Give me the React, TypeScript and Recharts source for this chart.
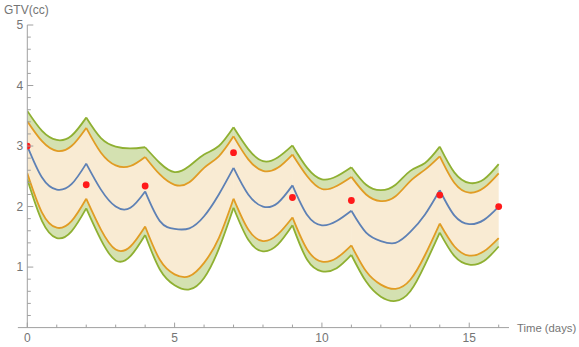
import React from 'react';
import { ComposedChart, Area, Line, Scatter, XAxis, YAxis, ReferenceLine } from 'recharts';

const times = [0, 0.5, 1, 1.5, 2, 2.5, 3, 3.5, 4, 4.5, 5, 5.5, 6, 6.5, 7, 7.5, 8, 8.5, 9, 9.5, 10, 10.5, 11, 11.5, 12, 12.5, 13, 13.5, 14, 14.5, 15, 15.5, 16];
const greenUpper = [3.58, 3.25, 3.1, 3.17, 3.47, 3.13, 2.99, 2.96, 2.98, 2.72, 2.57, 2.67, 2.86, 3.0, 3.31, 2.95, 2.75, 2.81, 3.01, 2.64, 2.45, 2.5, 2.65, 2.36, 2.27, 2.36, 2.59, 2.72, 2.99, 2.56, 2.39, 2.45, 2.7];
const orangeUpper = [3.41, 3.08, 2.92, 3.0, 3.3, 2.89, 2.68, 2.67, 2.82, 2.53, 2.36, 2.4, 2.64, 2.83, 3.16, 2.78, 2.59, 2.64, 2.86, 2.5, 2.29, 2.34, 2.49, 2.2, 2.09, 2.17, 2.42, 2.61, 2.83, 2.39, 2.23, 2.31, 2.55];
const bestFit = [3.0, 2.48, 2.28, 2.37, 2.71, 2.28, 2.0, 1.98, 2.25, 1.76, 1.63, 1.64, 1.84, 2.2, 2.64, 2.2, 2.0, 2.06, 2.35, 1.86, 1.69, 1.76, 1.93, 1.57, 1.43, 1.4, 1.58, 1.87, 2.27, 1.85, 1.71, 1.78, 2.0];
const orangeLower = [2.55, 1.9, 1.65, 1.76, 2.13, 1.62, 1.29, 1.34, 1.67, 1.12, 0.88, 0.85, 1.07, 1.48, 2.13, 1.62, 1.43, 1.54, 1.82, 1.29, 1.09, 1.15, 1.36, 0.93, 0.71, 0.64, 0.79, 1.2, 1.72, 1.34, 1.19, 1.26, 1.48];
const greenLower = [2.45, 1.76, 1.48, 1.59, 1.97, 1.45, 1.11, 1.18, 1.53, 0.96, 0.7, 0.63, 0.82, 1.3, 1.98, 1.45, 1.26, 1.37, 1.69, 1.12, 0.93, 0.98, 1.2, 0.76, 0.51, 0.44, 0.6, 1.04, 1.57, 1.18, 1.04, 1.1, 1.34];

const doseTimes = [0, 2, 4, 7, 9, 11, 14, 16];
const obsTimes = [0, 2, 4, 7, 9, 11, 14, 16];
const obsValues = [3.0, 2.36, 2.34, 2.89, 2.15, 2.1, 2.19, 2.0];

const xTicks = [0, 1, 2, 3, 4, 5, 6, 7, 8, 9, 10, 11, 12, 13, 14, 15, 16];
const xTickLabels = [0, 5, 10, 15];
const yTicks = [0.2, 0.4, 0.6, 0.8, 1, 1.2, 1.4, 1.6, 1.8, 2, 2.2, 2.4, 2.6, 2.8, 3, 3.2, 3.4, 3.6, 3.8, 4, 4.2, 4.4, 4.6, 4.8, 5];
const yTickLabels = [1, 2, 3, 4, 5];

const GREEN = '#8fb032';
const ORANGE = '#e19c24';
const BLUE = '#5e81b5';
const AXIS = '#a0a0a0';
const TEXT = '#757575';
const FONT = '"Liberation Sans", Arial, sans-serif';
const CURVE = 'natural';

const rows = times.map((t, i) => ({
  t,
  gu: greenUpper[i],
  ou: orangeUpper[i],
  b: bestFit[i],
  ol: orangeLower[i],
  gl: greenLower[i],
}));

const segments = doseTimes.slice(0, -1).map((start, i) =>
  rows.filter((r) => r.t >= start && r.t <= doseTimes[i + 1])
);

const obs = obsTimes.map((t, i) => ({ t, v: obsValues[i] }));

const XTick = (props: any) => {
  const { x, y, payload } = props;
  const major = xTickLabels.includes(payload.value);
  return (
    <g>
      <line x1={x} x2={x} y1={y} y2={y - (major ? 5 : 3)} stroke={AXIS} strokeWidth={1} />
      {major && (
        <text x={x} y={y + 14} textAnchor="middle" fill={TEXT} fontSize={12} fontFamily={FONT}>
          {payload.value}
        </text>
      )}
    </g>
  );
};

const YTick = (props: any) => {
  const { x, y, payload } = props;
  const v = Math.round(payload.value * 10) / 10;
  const major = yTickLabels.includes(v);
  return (
    <g>
      <line x1={x} x2={x + (major ? 6 : 3.5)} y1={y} y2={y} stroke={AXIS} strokeWidth={1} />
      {major && (
        <text x={x - 4} y={y + 4} textAnchor="end" fill={TEXT} fontSize={12} fontFamily={FONT}>
          {v}
        </text>
      )}
    </g>
  );
};

const Dot = (props: any) => {
  const { cx, cy } = props;
  return <circle cx={cx} cy={cy} r={3.4} fill="#ff1a1a" />;
};

export default function App() {
  return (
    <div style={{ position: 'fixed', left: 0, top: 0, width: 579, height: 347, background: '#fff', overflow: 'hidden' }}>
      <ComposedChart width={579} height={347} margin={{ top: 25, right: 70, bottom: 0, left: 0 }}>
        <XAxis
          type="number"
          dataKey="t"
          domain={[0, 16.35]}
          ticks={xTicks}
          interval={0}
          axisLine={false}
          tickLine={false}
          tickSize={0}
          tickMargin={0}
          height={19.4}
          tick={<XTick />}
          allowDataOverflow
        />
        <YAxis
          type="number"
          domain={[0, 5]}
          ticks={yTicks}
          interval={0}
          width={27.3}
          axisLine={{ stroke: AXIS, strokeWidth: 1 }}
          tickLine={false}
          tickSize={0}
          tickMargin={0}
          tick={<YTick />}
          allowDataOverflow
        />
        <ReferenceLine
          segment={[{ x: -0.32, y: 0 }, { x: 16.35, y: 0 }]}
          stroke={AXIS}
          strokeWidth={1}
          ifOverflow="visible"
        />
        {segments.map((seg, i) => (
          <Area
            key={`ag1-${i}`}
            data={seg}
            dataKey={(r: any) => [r.ou, r.gu]}
            type={CURVE}
            stroke="none"
            fill={GREEN}
            fillOpacity={0.38}
            isAnimationActive={false}
          />
        ))}
        {segments.map((seg, i) => (
          <Area
            key={`ap-${i}`}
            data={seg}
            dataKey={(r: any) => [r.ol, r.ou]}
            type={CURVE}
            stroke="none"
            fill={ORANGE}
            fillOpacity={0.2}
            isAnimationActive={false}
          />
        ))}
        {segments.map((seg, i) => (
          <Area
            key={`ag2-${i}`}
            data={seg}
            dataKey={(r: any) => [r.gl, r.ol]}
            type={CURVE}
            stroke="none"
            fill={GREEN}
            fillOpacity={0.38}
            isAnimationActive={false}
          />
        ))}
        <Scatter data={obs} dataKey="v" shape={<Dot />} isAnimationActive={false} />
        {segments.map((seg, i) => (
          <Line key={`lgu-${i}`} data={seg} dataKey="gu" type={CURVE} stroke={GREEN} strokeWidth={1.8} dot={false} isAnimationActive={false} />
        ))}
        {segments.map((seg, i) => (
          <Line key={`lgl-${i}`} data={seg} dataKey="gl" type={CURVE} stroke={GREEN} strokeWidth={1.8} dot={false} isAnimationActive={false} />
        ))}
        {segments.map((seg, i) => (
          <Line key={`lou-${i}`} data={seg} dataKey="ou" type={CURVE} stroke={ORANGE} strokeWidth={1.8} dot={false} isAnimationActive={false} />
        ))}
        {segments.map((seg, i) => (
          <Line key={`lol-${i}`} data={seg} dataKey="ol" type={CURVE} stroke={ORANGE} strokeWidth={1.8} dot={false} isAnimationActive={false} />
        ))}
        {segments.map((seg, i) => (
          <Line key={`lb-${i}`} data={seg} dataKey="b" type={CURVE} stroke={BLUE} strokeWidth={1.8} dot={false} isAnimationActive={false} />
        ))}
      </ComposedChart>
      <span style={{ position: 'absolute', left: 4, top: 3, fontFamily: FONT, fontSize: 12, color: TEXT, lineHeight: '14px' }}>GTV(cc)</span>
      <span style={{ position: 'absolute', left: 517, top: 321, fontFamily: FONT, fontSize: 11.3, color: TEXT, lineHeight: '14px', whiteSpace: 'nowrap' }}>Time (days)</span>
    </div>
  );
}
